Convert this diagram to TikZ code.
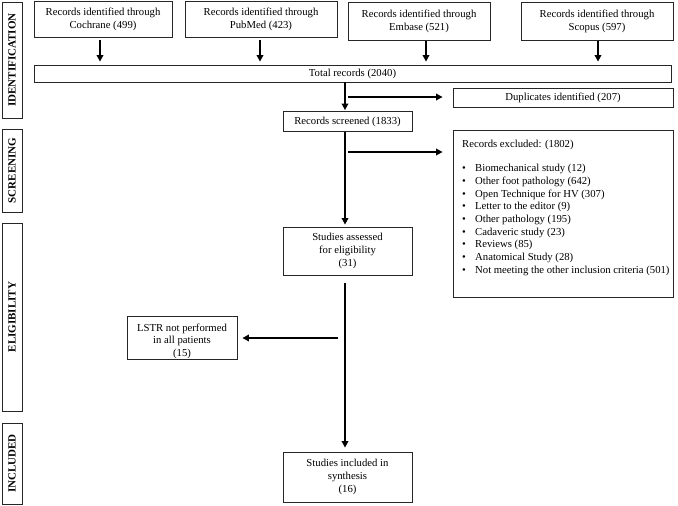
\documentclass[tikz,border=0pt]{standalone}
\usepackage{fontspec}
\setmainfont{Liberation Serif}
\usetikzlibrary{arrows.meta}
\begin{document}
\begin{tikzpicture}[x=1pt,y=-1pt,
  box/.style={draw=black!85, line width=0.8pt, inner sep=0pt, align=center, font=\fontsize{10.7}{13}\selectfont},
  side/.style={draw=black!85, line width=0.9pt, inner sep=0pt, minimum width=20pt},
  sidetext/.style={rotate=90, inner sep=0pt, font=\fontsize{11}{12}\selectfont\bfseries},
  txt/.style={inner sep=0pt, font=\fontsize{10.7}{13}\selectfont, align=center},
  arr/.style={line width=2pt, -{Triangle[length=6.5pt,width=6.5pt]}},
  ]
\useasboundingbox (0,0) rectangle (678,506);
% side labels
\node[side, minimum height=116pt] (sid) at (12,60) {};
\node[sidetext] (sidt) at (12,60) {IDENTIFICATION};
\node[side, minimum height=83pt] (sscr) at (12,170.5) {};
\node[sidetext] (sscrt) at (12,170.5) {SCREENING};
\node[side, minimum height=188pt] (sel) at (12,317) {};
\node[sidetext] (selt) at (12,317) {ELIGIBILITY};
\node[side, minimum height=81pt] (sinc) at (12,463.5) {};
\node[sidetext] (sinct) at (12,463.5) {INCLUDED};
% top boxes
\node[box, minimum width=138pt, minimum height=36pt] (coch) at (103,19.5) {Records identified through\\Cochrane (499)};
\node[box, minimum width=152pt, minimum height=36pt] (pub) at (261,19.5) {Records identified through\\PubMed (423)};
\node[box, minimum width=142pt, minimum height=38pt] (emb) at (419,21) {Records identified through\\Embase (521)};
\node[box, minimum width=152pt, minimum height=38pt] (sco) at (597,21) {Records identified through\\Scopus (597)};
\node[box, minimum width=637pt, minimum height=17pt] (tot) at (352.5,73.5) {Total records (2040)};
\draw[arr, shorten <=2pt, shorten >=3pt] ([xshift=-3pt]coch.south) -- ([xshift=-3pt]coch.south |- tot.north);
\draw[arr, shorten <=2pt, shorten >=3pt] ([xshift=-1pt]pub.south) -- ([xshift=-1pt]pub.south |- tot.north);
\draw[arr, shorten <=1pt, shorten >=3pt] ([xshift=7pt]emb.south) -- ([xshift=7pt]emb.south |- tot.north);
\draw[arr, shorten <=1pt, shorten >=3pt] ([xshift=1pt]sco.south) -- ([xshift=1pt]sco.south |- tot.north);
% main column
\coordinate (col) at (345,0);
\node[box, minimum width=129pt, minimum height=20pt] (scr) at (347.5,121.5) {Records screened (1833)};
\node[box, minimum width=220pt, minimum height=19pt] (dup) at (563,97.5) {Duplicates identified (207)};
\node[box, minimum width=129pt, minimum height=48pt] (ass) at (347.5,251) {Studies assessed\\for eligibility\\(31)};
\node[box, minimum width=220pt, minimum height=167pt] (excl) at (563,213.5) {};
\node[box, minimum width=129pt, minimum height=50pt] (inc) at (347.5,477) {Studies included in\\synthesis\\(16)};
\node[box, minimum width=110pt, minimum height=43pt] (lstr) at (182,337.5) {};
\node[inner sep=0pt, align=center, font=\fontsize{10.7}{12.6}\selectfont] (lstrt) at (182,341) {LSTR not performed\\in all patients\\(15)};
% excluded list
\node[txt, anchor=west] (ex0) at (462,145) {Records excluded: (1802)};
\foreach \t [count=\i] in {Biomechanical study (12), Other foot pathology (642), Open Technique for HV (307), Letter to the editor (9), Other pathology (195), Cadaveric study (23), Reviews (85), Anatomical Study (28), Not meeting the other inclusion criteria (501)}
  \node[txt, anchor=west] (ex\i) at (462,{156.3+12.7*\i}) {\makebox[13pt][l]{\textbullet}\t};
% arrows
\coordinate (dupstart) at (348,97);
\coordinate (exstart) at (348,152);
\coordinate (lstrstart) at (338,338);
\draw[arr, shorten >=1pt] (tot.south -| col) -- (scr.north -| col);
\draw[arr, shorten >=2pt] (scr.south -| col) -- (ass.north -| col);
\draw[arr, shorten <=8pt, shorten >=4pt] (ass.south -| col) -- (inc.north -| col);
\draw[arr, shorten >=10pt] (dupstart) -- (dupstart -| dup.west);
\draw[arr, shorten >=10pt] (exstart) -- (exstart -| excl.west);
\draw[arr, shorten >=5pt] (lstrstart) -- (lstrstart -| lstr.east);
\end{tikzpicture}
\end{document}
